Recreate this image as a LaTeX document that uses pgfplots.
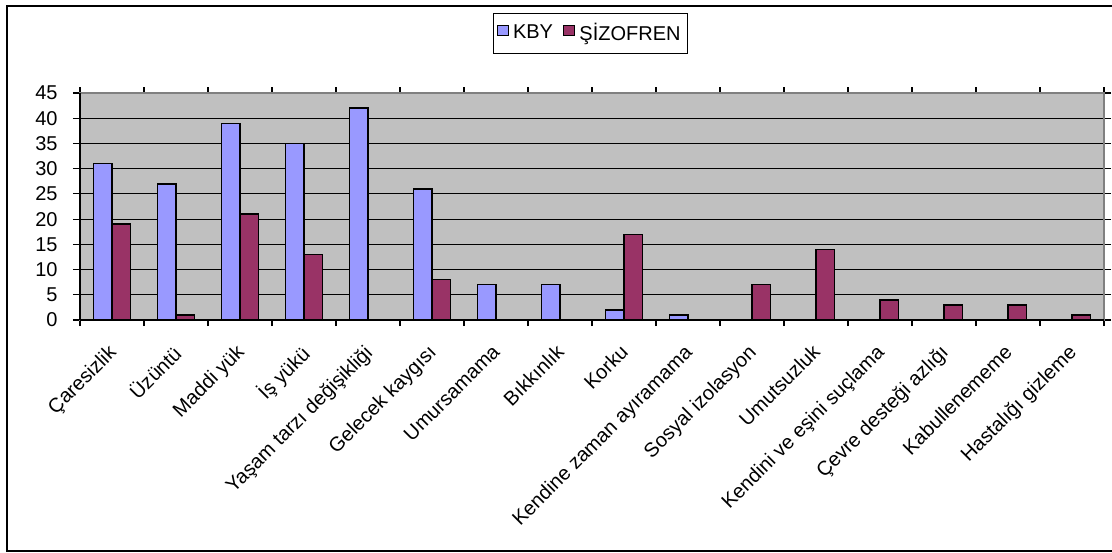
\documentclass[border=0pt]{standalone}
\usepackage{pgfplots}
\pgfplotsset{compat=1.18}
\usepackage{fontspec}
\setmainfont{Liberation Sans}

\definecolor{kby}{HTML}{9999FF}
\definecolor{szf}{HTML}{993366}
\definecolor{plotbg}{HTML}{C0C0C0}
\definecolor{areaedge}{HTML}{808080}

\newcommand{\chartfont}{\fontsize{10}{12}\selectfont}

\begin{document}
\begin{tikzpicture}[font=\chartfont]
\begin{axis}[
  name=ax,
  at={(40pt,116pt)}, anchor=south west,
  scale only axis, width=512pt, height=113.5pt,
  xmin=-0.5, xmax=15.5, ymin=0, ymax=45,
  ybar=0pt, bar width=9.15pt,
  axis background/.style={fill=plotbg},
  axis line style={draw=areaedge, line width=1pt},
  ymajorgrids, major grid style={black, line width=0.6pt},
  ytick={0,5,...,45},
  xtick={0,...,15},
  minor xtick={-0.5,0.5,...,15.5},
  every major x tick/.style={draw=none},
  tick align=outside, major tick length=3.5pt, minor tick length=3pt,
  tick style={black, line width=0.6pt},
  tick label style={font=\chartfont},
  /pgf/number format/assume math mode=true,
  yticklabel style={anchor=east, inner sep=0pt, xshift=-7.5pt},
  xticklabel style={xshift=-2.5pt, yshift=-8pt, rotate=45, anchor=north east, inner sep=0pt},
  xticklabels={Çaresizlik, Üzüntü, Maddi yük, İş yükü, Yaşam tarzı değişikliği,
    Gelecek kaygısı, Umursamama, Bıkkınlık, Korku, Kendine zaman ayıramama,
    Sosyal izolasyon, Umutsuzluk, Kendini ve eşini suçlama, Çevre desteği azlığı,
    Kabullenememe, Hastalığı gizleme},
  legend columns=-1,
  legend style={at={(0.4986,1.262)}, anchor=center, draw=black, line width=0.5pt,
    fill=white, inner xsep=1.5pt, inner ysep=3pt, font=\chartfont,
    /tikz/every even column/.append style={column sep=3pt}},
  legend image code/.code={\draw[#1] (0pt,-1.1pt) rectangle (5.5pt,4.1pt);},
]
\addplot[fill=kby, draw=black, line width=0.7pt] coordinates {
  (0,31) (1,27) (2,39) (3,35) (4,42) (5,26) (6,7) (7,7) (8,2) (9,1)};
\addlegendentry{KBY}
\addplot[fill=szf, draw=black, line width=0.7pt] coordinates {
  (0,19) (1,1) (2,21) (3,13) (5,8) (8,17) (10,7) (11,14) (12,4) (13,3) (14,3) (15,1)};
\addlegendentry{ŞİZOFREN}
\end{axis}
% value and category axes in black over the grey plot-area edge
\draw[black, line width=0.6pt] (ax.south west) -- (ax.north west);
\draw[black, line width=0.6pt] (ax.south west) -- (ax.south east);
% chart frame
\draw[black, line width=1pt] (565pt,0.75pt) -- (3.25pt,0.75pt) -- (3.25pt,272.75pt) -- (565pt,272.75pt);
\pgfresetboundingbox
\useasboundingbox (0,0) rectangle (556pt,276pt);
\end{tikzpicture}
\end{document}
